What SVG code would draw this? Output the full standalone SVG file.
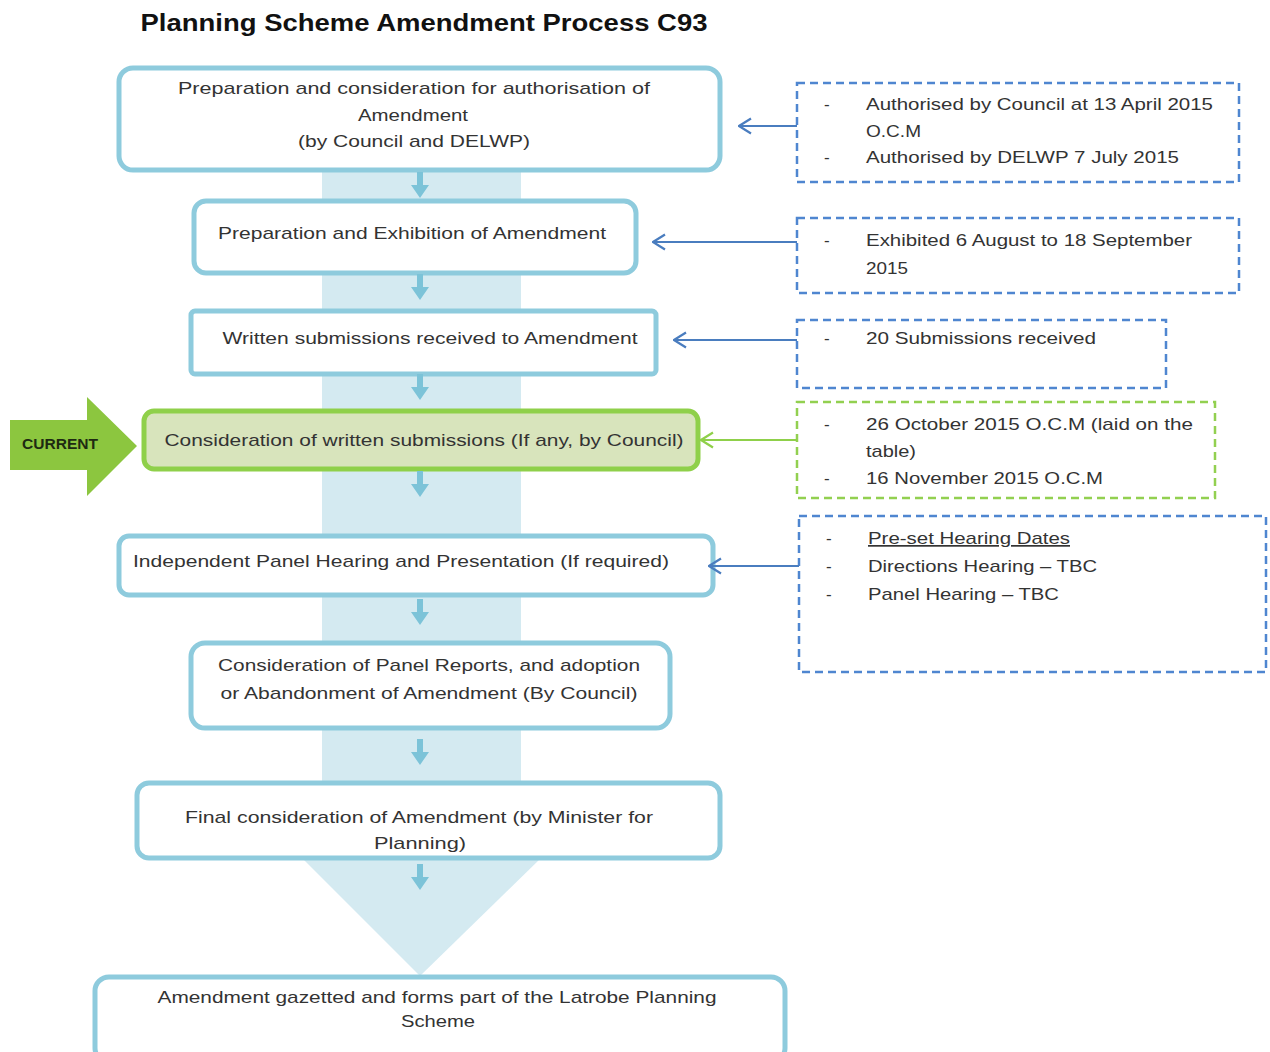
<svg xmlns="http://www.w3.org/2000/svg" width="1270" height="1052" viewBox="0 0 1270 1052">
<style>
.t{font-family:"Liberation Sans",Arial,sans-serif;font-size:17px;fill:#333}
.c{text-anchor:middle}
.box{fill:#fff;stroke:#8ecbdd;stroke-width:5}
.gbox{fill:#d8e4bc;stroke:#8fd04a;stroke-width:5}
.dash{fill:none;stroke:#4f86d0;stroke-width:2.5;stroke-dasharray:8 5}
.gdash{fill:none;stroke:#92d050;stroke-width:2.5;stroke-dasharray:8 5}
.hl{stroke:#4a7dbf;stroke-width:2;fill:none}
.gl{stroke:#8fd04a;stroke-width:2;fill:none}
.da{fill:#7cc3d8}
</style>
<defs>
<marker id="mb" markerUnits="userSpaceOnUse" markerWidth="14" markerHeight="18" viewBox="0 0 14 18" refX="13" refY="9" orient="auto"><path d="M1,1.5 L13,9 L1,16.5" fill="none" stroke="#4a7dbf" stroke-width="2.2"/></marker>
<marker id="mg" markerUnits="userSpaceOnUse" markerWidth="14" markerHeight="18" viewBox="0 0 14 18" refX="13" refY="9" orient="auto"><path d="M1,1.5 L13,9 L1,16.5" fill="none" stroke="#8fd04a" stroke-width="2.2"/></marker>
<path id="dn" d="M-3,-26 h6 v13 h6 l-9,13 l-9,-13 h6 z"/>
</defs>

<text x="424" y="31" text-anchor="middle" style="font-family:'Liberation Sans',Arial,sans-serif;font-size:24px;font-weight:bold;fill:#111" textLength="567" lengthAdjust="spacingAndGlyphs">Planning Scheme Amendment Process C93</text>

<g id="bigarrow">
<rect x="322" y="160" width="199" height="700" fill="#d4eaf1"/>
<polygon points="302,858 541,858 420,976" fill="#d4eaf1"/>
</g>

<g id="current">
<polygon points="10,420 87,420 87,397 137,446 87,496 87,470 10,470" fill="#8cc63f"/>
<text x="60" y="449" text-anchor="middle" style="font-family:'Liberation Sans',Arial,sans-serif;font-size:15px;font-weight:bold;fill:#1e2a12" textLength="76" lengthAdjust="spacingAndGlyphs">CURRENT</text>
</g>

<g id="n1"><rect class="box" x="119" y="68" width="601" height="102" rx="14"/>
<text class="t c" x="414" y="94" textLength="472" lengthAdjust="spacingAndGlyphs">Preparation and consideration for authorisation of</text>
<text class="t c" x="413" y="121" textLength="110" lengthAdjust="spacingAndGlyphs">Amendment</text>
<text class="t c" x="414" y="147" textLength="232" lengthAdjust="spacingAndGlyphs">(by Council and DELWP)</text></g>

<g id="n2"><rect class="box" x="194" y="201" width="442" height="72" rx="12"/>
<text class="t c" x="412" y="239" textLength="388" lengthAdjust="spacingAndGlyphs">Preparation and Exhibition of Amendment</text></g>

<g id="n3"><rect class="box" x="191" y="311" width="465" height="63" rx="4"/>
<text class="t c" x="430" y="344" textLength="415" lengthAdjust="spacingAndGlyphs">Written submissions received to Amendment</text></g>

<g id="n4"><rect class="gbox" x="144" y="411" width="554" height="58" rx="10"/>
<text class="t c" x="424" y="446" textLength="519" lengthAdjust="spacingAndGlyphs">Consideration of written submissions (If any, by Council)</text></g>

<g id="n5"><rect class="box" x="119" y="536" width="594" height="59" rx="10"/>
<text class="t c" x="401" y="567" textLength="536" lengthAdjust="spacingAndGlyphs">Independent Panel Hearing and Presentation (If required)</text></g>

<g id="n6"><rect class="box" x="191" y="643" width="479" height="85" rx="14"/>
<text class="t c" x="429" y="671" textLength="422" lengthAdjust="spacingAndGlyphs">Consideration of Panel Reports, and adoption</text>
<text class="t c" x="429" y="699" textLength="417" lengthAdjust="spacingAndGlyphs">or Abandonment of Amendment (By Council)</text></g>

<g id="n7"><rect class="box" x="137" y="783" width="583" height="75" rx="12"/>
<text class="t c" x="419" y="823" textLength="468" lengthAdjust="spacingAndGlyphs">Final consideration of Amendment (by Minister for</text>
<text class="t c" x="420" y="849" textLength="92" lengthAdjust="spacingAndGlyphs">Planning)</text></g>

<g id="n8"><rect class="box" x="95" y="977" width="690" height="85" rx="14"/>
<text class="t c" x="437" y="1003" textLength="559" lengthAdjust="spacingAndGlyphs">Amendment gazetted and forms part of the Latrobe Planning</text>
<text class="t c" x="438" y="1027" textLength="74" lengthAdjust="spacingAndGlyphs">Scheme</text></g>

<g id="nA"><rect class="dash" x="797" y="83" width="442" height="99"/>
<text class="t" x="824" y="110">-</text><text class="t" x="866" y="110" textLength="347" lengthAdjust="spacingAndGlyphs">Authorised by Council at 13 April 2015</text>
<text class="t" x="866" y="137" textLength="55" lengthAdjust="spacingAndGlyphs">O.C.M</text>
<text class="t" x="824" y="163">-</text><text class="t" x="866" y="163" textLength="313" lengthAdjust="spacingAndGlyphs">Authorised by DELWP 7 July 2015</text></g>

<g id="nB"><rect class="dash" x="797" y="218" width="442" height="75"/>
<text class="t" x="824" y="246">-</text><text class="t" x="866" y="246" textLength="326" lengthAdjust="spacingAndGlyphs">Exhibited 6 August to 18 September</text>
<text class="t" x="866" y="274" textLength="42" lengthAdjust="spacingAndGlyphs">2015</text></g>

<g id="nC"><rect class="dash" x="797" y="320" width="369" height="68"/>
<text class="t" x="824" y="344">-</text><text class="t" x="866" y="344" textLength="230" lengthAdjust="spacingAndGlyphs">20 Submissions received</text></g>

<g id="nD"><rect class="gdash" x="797" y="402" width="418" height="96"/>
<text class="t" x="824" y="430">-</text><text class="t" x="866" y="430" textLength="327" lengthAdjust="spacingAndGlyphs">26 October 2015 O.C.M (laid on the</text>
<text class="t" x="866" y="457" textLength="50" lengthAdjust="spacingAndGlyphs">table)</text>
<text class="t" x="824" y="484">-</text><text class="t" x="866" y="484" textLength="237" lengthAdjust="spacingAndGlyphs">16 November 2015 O.C.M</text></g>

<g id="nE"><rect class="dash" x="799" y="516" width="467" height="156"/>
<text class="t" x="826" y="544">-</text><text class="t" x="868" y="544" text-decoration="underline" textLength="202" lengthAdjust="spacingAndGlyphs">Pre-set Hearing Dates</text>
<text class="t" x="826" y="572">-</text><text class="t" x="868" y="572" textLength="229" lengthAdjust="spacingAndGlyphs">Directions Hearing – TBC</text>
<text class="t" x="826" y="600">-</text><text class="t" x="868" y="600" textLength="191" lengthAdjust="spacingAndGlyphs">Panel Hearing – TBC</text></g>

<g id="connectors">
<use href="#dn" class="da" x="420" y="198"/>
<use href="#dn" class="da" x="420" y="300"/>
<use href="#dn" class="da" x="420" y="400"/>
<use href="#dn" class="da" x="420" y="497"/>
<use href="#dn" class="da" x="420" y="625"/>
<use href="#dn" class="da" x="420" y="765"/>
<use href="#dn" class="da" x="420" y="890"/>
<line class="hl" x1="797" y1="126" x2="739" y2="126" marker-end="url(#mb)"/>
<line class="hl" x1="797" y1="242" x2="653" y2="242" marker-end="url(#mb)"/>
<line class="hl" x1="797" y1="340" x2="674" y2="340" marker-end="url(#mb)"/>
<line class="gl" x1="797" y1="440" x2="701" y2="440" marker-end="url(#mg)"/>
<line class="hl" x1="799" y1="566" x2="709" y2="566" marker-end="url(#mb)"/>
</g>
</svg>
